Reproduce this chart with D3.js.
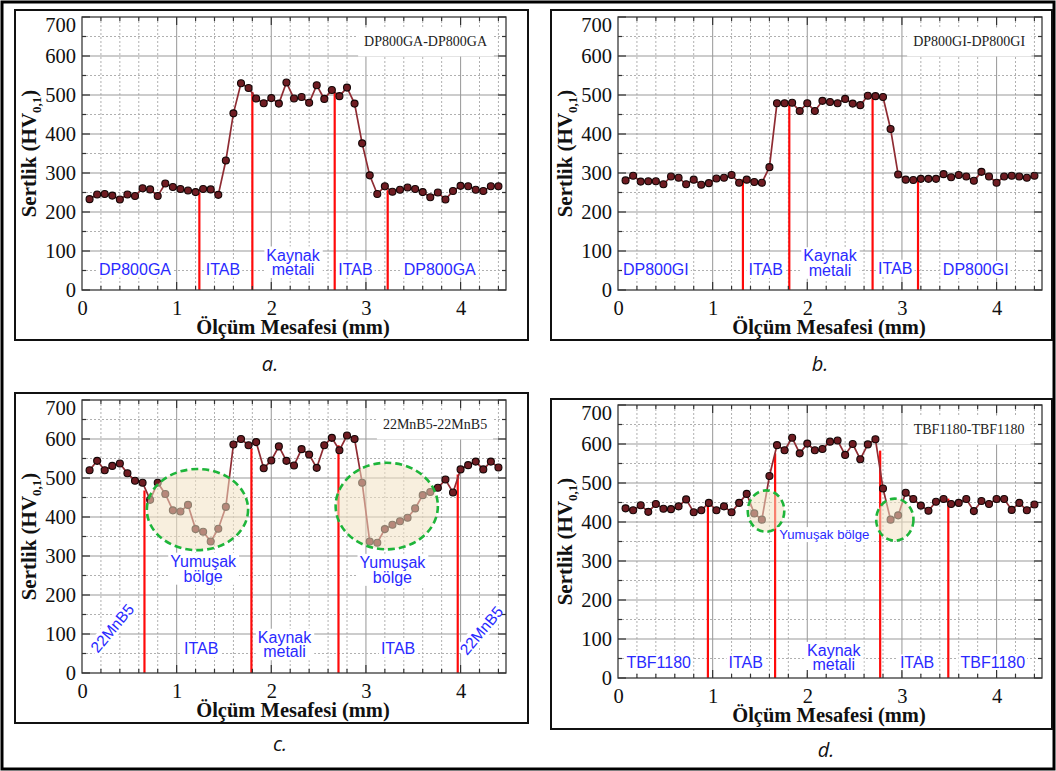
<!DOCTYPE html>
<html><head><meta charset="utf-8">
<script src="https://cdn.jsdelivr.net/npm/d3@7"></script>
<style>html,body{margin:0;padding:0;background:#fff;} svg{display:block;}</style>
</head><body>
<svg id="chart" width="1056" height="771"></svg>
<script>
// ---------- DATA ----------
const distance = [0.08,0.16,0.24,0.32,0.40,0.48,0.56,0.64,0.72,0.80,0.88,0.96,1.04,1.12,1.20,1.28,1.36,1.44,1.52,1.60,1.68,1.76,1.84,1.92,2.00,2.08,2.16,2.24,2.32,2.40,2.48,2.56,2.64,2.72,2.80,2.88,2.96,3.04,3.12,3.20,3.28,3.36,3.44,3.52,3.60,3.68,3.76,3.84,3.92,4.00,4.08,4.16,4.24,4.32,4.40];

const hvA = [233,245,246,242,232,245,241,261,258,241,273,264,259,255,251,259,258,244,332,453,530,518,491,479,492,478,532,491,495,480,525,490,513,497,519,478,376,294,246,266,252,257,263,259,251,238,250,232,254,267,266,257,254,266,266];
const hvB = [281,293,278,279,279,271,291,288,271,283,270,274,286,288,295,275,283,277,275,315,479,479,480,459,479,459,485,482,479,490,478,474,498,497,495,413,296,283,282,285,285,285,297,289,295,291,280,303,291,275,291,293,291,288,293];
const hvC = [520,544,520,531,537,512,493,488,444,488,459,417,414,431,369,362,337,370,426,586,600,584,592,525,545,581,544,532,574,560,526,584,603,571,609,600,488,337,334,369,380,389,398,422,456,464,475,496,463,522,533,542,522,542,527];
const hvD = [435,430,443,426,446,434,433,440,458,425,430,449,430,440,425,449,472,422,406,518,597,584,616,576,601,584,587,606,609,572,600,561,599,612,486,406,417,475,459,442,429,452,459,446,449,459,428,454,446,459,459,431,449,430,445];

// zone boundaries (mm) and the hardness where each red line stops
const boundA = [1.24, 1.80, 2.67, 3.23], boundTopA = [250, 508, 508, 256];
const boundB = [1.32, 1.81, 2.69, 3.17], boundTopB = [284, 476, 496, 288];
const boundC = [0.66, 1.79, 2.71, 3.97], boundTopC = [468, 576, 584, 509];
const boundD = [0.95, 1.66, 2.77, 3.49], boundTopD = [443, 576, 583, 460];

const titles = ["DP800GA-DP800GA", "DP800GI-DP800GI", "22MnB5-22MnB5", "TBF1180-TBF1180"];
const titleX = [3.63, 3.71, 3.73, 3.71];
const captions = ["a.", "b.", "c.", "d."];
const xTickLabels = [0, 1, 2, 3, 4];
const yTickLabels = [0, 100, 200, 300, 400, 500, 600, 700];

// zone labels: [text lines], x (mm), y (HV) of first line
const zonesA = [[["DP800GA"],0.56,54],[["ITAB"],1.49,54],[["Kaynak","metali"],2.23,90],[["ITAB"],2.89,54],[["DP800GA"],3.78,54]];
const zonesB = [[["DP800GI"],0.40,52],[["ITAB"],1.56,53],[["Kaynak","metali"],2.24,88],[["ITAB"],2.93,56],[["DP800GI"],3.78,53]];
const zonesC = [[["ITAB"],1.26,62],[["Kaynak","metali"],2.14,92],[["ITAB"],3.34,62]];
const zonesD = [[["TBF1180"],0.43,39],[["ITAB"],1.35,39],[["Kaynak","metali"],2.28,71],[["ITAB"],3.16,39],[["TBF1180"],3.96,40]];
const rotatedC = [["22MnB5",0.32,115],["22MnB5",4.22,109]];
// soft zones: centre x (mm), centre y (HV), half-width (mm), half-height (HV)
const softC = [[1.22,419,0.535,104],[3.22,428,0.54,111]];
const softD = [[1.564,428,0.193,53],[2.925,406,0.197,54]];
const softLabelC = [[["Yumuşak","bölge"],1.28,287],[["Yumuşak","bölge"],3.28,284]];
const softLabelD = [[["Yumuşak bölge"],2.18,368]];

// ---------- LAYOUT ----------
const svg = d3.select("#chart");
const PW = 424, PH = 273;
const panels = [
  {ox:82,  oy:17,  hv:hvA, bound:boundA, top:boundTopA, zones:zonesA, frame:[15,10,513,330], cap:[270,364]},
  {ox:618, oy:17,  hv:hvB, bound:boundB, top:boundTopB, zones:zonesB, frame:[551,10,501,330], cap:[820,364]},
  {ox:82,  oy:400, hv:hvC, bound:boundC, top:boundTopC, zones:zonesC, frame:[15,393,513,330], cap:[280,744], rot:rotatedC, soft:softC, softLab:softLabelC, softSize:16},
  {ox:618, oy:405, hv:hvD, bound:boundD, top:boundTopD, zones:zonesD, frame:[551,399,501,330], cap:[826,750], soft:softD, softLab:softLabelD, softSize:13.2}
];

svg.append("rect").attr("x",2).attr("y",2).attr("width",1052).attr("height",767)
  .attr("fill","none").attr("stroke","#000").attr("stroke-width",3);

const blue = "#2a2aff";
const SERIF = "'Liberation Serif','Times New Roman',serif";
const SANS = "'Liberation Sans',Arial,sans-serif";
function bgText(g, lines, cx, cyPx, size, lineH, opts={}) {
  const t = g.append("text").attr("text-anchor","middle")
    .style("font-family", opts.family || SANS)
    .style("font-size", size+"px").attr("fill", opts.color || blue);
  lines.forEach((l,i)=>{
    t.append("tspan").attr("x",cx).attr("y",cyPx + i*lineH).attr("dy","0.35em").text(l);
  });
  if (opts.rotate) t.attr("transform",`rotate(${opts.rotate},${cx},${cyPx})`);
  const bb = t.node().getBBox();
  const p = opts.pad || [2,0];
  const r = g.insert("rect", () => t.node())
    .attr("x",bb.x-p[0]).attr("y",bb.y-p[1]).attr("width",bb.width+2*p[0]).attr("height",bb.height+2*p[1])
    .attr("fill","#fff");
  if (opts.rotate) r.attr("transform",`rotate(${opts.rotate},${cx},${cyPx})`);
  return t;
}

panels.forEach((P, pi) => {
  svg.append("rect").attr("x",P.frame[0]).attr("y",P.frame[1]).attr("width",P.frame[2]).attr("height",P.frame[3])
    .attr("fill","none").attr("stroke","#111").attr("stroke-width",2);

  const g = svg.append("g").attr("transform",`translate(${P.ox},${P.oy})`);
  const x = d3.scaleLinear().domain([0,4.48]).range([0,PW]);
  const y = d3.scaleLinear().domain([0,700]).range([PH,0]);

  // grid
  const xMinor = x.ticks(22).filter(v => v > 0 && Math.abs(v - Math.round(v)) > 1e-6);
  const xMajor = xTickLabels.filter(v => v > 0);
  g.selectAll(".vgm").data(xMinor).join("line")
    .attr("x1",d=>x(d)).attr("x2",d=>x(d)).attr("y1",0).attr("y2",PH)
    .attr("stroke","#b0b0b0").attr("stroke-width",1).attr("stroke-dasharray","2,2");
  g.selectAll(".vgM").data(xMajor).join("line")
    .attr("x1",d=>x(d)).attr("x2",d=>x(d)).attr("y1",0).attr("y2",PH)
    .attr("stroke","#a0a0a0").attr("stroke-width",1.1);
  const yMinor = y.ticks(14).filter(v => v % 100 !== 0);
  g.selectAll(".hgm").data(yMinor).join("line")
    .attr("x1",0).attr("x2",PW).attr("y1",d=>y(d)).attr("y2",d=>y(d))
    .attr("stroke","#b0b0b0").attr("stroke-width",1).attr("stroke-dasharray","2,2");
  g.selectAll(".hgM").data(yTickLabels.filter(v=>v>0 && v<700)).join("line")
    .attr("x1",0).attr("x2",PW).attr("y1",d=>y(d)).attr("y2",d=>y(d))
    .attr("stroke","#999").attr("stroke-width",1.2);

  // zone labels
  P.zones.forEach(z => bgText(g, z[0], x(z[1]), y(z[2]), 16, 14.5));
  if (P.rot) P.rot.forEach(z => bgText(g, [z[0]], x(z[1]), y(z[2]), 15.5, 14, {rotate:-50}));

  // title
  bgText(g, [titles[pi]], x(titleX[pi]), y(637), 14, 14, {family:SERIF, color:"#222", pad:[6,7]});

  // red zone lines
  g.selectAll(".bnd").data(P.bound).join("line")
    .attr("x1",d=>x(d)).attr("x2",d=>x(d)).attr("y1",y(0)).attr("y2",(d,i)=>y(P.top[i]))
    .attr("stroke","#ff0a0a").attr("stroke-width",2.2);

  // series
  const pts = distance.map((d,i)=>[d,P.hv[i]]);
  g.append("path").datum(pts)
    .attr("d", d3.line().x(d=>x(d[0])).y(d=>y(d[1])))
    .attr("fill","none").attr("stroke","#8f2c33").attr("stroke-width",1.7);
  g.selectAll(".pt").data(pts).join("circle")
    .attr("cx",d=>x(d[0])).attr("cy",d=>y(d[1])).attr("r",3.5)
    .attr("fill","#6f1c22").attr("stroke","#140606").attr("stroke-width",1.1);

  // soft zones
  if (P.soft) {
    P.soft.forEach(s => {
      g.append("ellipse").attr("cx",x(s[0])).attr("cy",y(s[1]))
        .attr("rx",x(s[2])-x(0)).attr("ry",y(0)-y(s[3]))
        .attr("fill","#f3e2c2").attr("fill-opacity",0.55)
        .attr("stroke","#1eb53a").attr("stroke-width",2.6).attr("stroke-dasharray","7,4");
    });
    P.softLab.forEach(z => bgText(g, z[0], x(z[1]), y(z[2]), P.softSize, 15));
  }

  // plot frame
  g.append("rect").attr("x",0).attr("y",0).attr("width",PW).attr("height",PH)
    .attr("fill","none").attr("stroke","#3a3a3a").attr("stroke-width",1.3);

  // ticks (inward, all four sides)
  const tk = g.append("g").attr("stroke","#333").attr("stroke-width",1.2);
  xMinor.forEach(v => { tk.append("line").attr("x1",x(v)).attr("x2",x(v)).attr("y1",0).attr("y2",4);
                        tk.append("line").attr("x1",x(v)).attr("x2",x(v)).attr("y1",PH).attr("y2",PH-4); });
  xMajor.forEach(v => { tk.append("line").attr("x1",x(v)).attr("x2",x(v)).attr("y1",0).attr("y2",8);
                        tk.append("line").attr("x1",x(v)).attr("x2",x(v)).attr("y1",PH).attr("y2",PH-8); });
  yMinor.forEach(v => { tk.append("line").attr("x1",0).attr("x2",4).attr("y1",y(v)).attr("y2",y(v));
                        tk.append("line").attr("x1",PW).attr("x2",PW-4).attr("y1",y(v)).attr("y2",y(v)); });
  yTickLabels.forEach(v => { tk.append("line").attr("x1",0).attr("x2",8).attr("y1",y(v)).attr("y2",y(v));
                        tk.append("line").attr("x1",PW).attr("x2",PW-8).attr("y1",y(v)).attr("y2",y(v)); });

  // axes labels
  const xa = g.append("g").attr("transform",`translate(0,${PH})`)
    .call(d3.axisBottom(x).tickValues(xTickLabels).tickSize(0).tickPadding(10).tickFormat(d3.format("d")));
  xa.select(".domain").remove();
  xa.attr("font-family",null).attr("font-size",null);
  xa.selectAll("text").style("font-family",SERIF).style("font-size","20.5px").attr("fill","#111");
  const ya = g.append("g")
    .call(d3.axisLeft(y).tickValues(yTickLabels).tickSize(0).tickPadding(6).tickFormat(d3.format("d")));
  ya.select(".domain").remove();
  ya.attr("font-family",null).attr("font-size",null);
  ya.selectAll("text").style("font-family",SERIF).style("font-size","20.5px").attr("fill","#111")
    .attr("dy", d => d === 700 ? "0.72em" : "0.33em");

  // axis titles
  g.append("text").attr("x",PW/2-1).attr("y",PH+44).attr("text-anchor","middle")
    .style("font-family",SERIF).style("font-weight","bold").style("font-size","20.5px")
    .attr("fill","#111").text("Ölçüm Mesafesi (mm)");
  const yt = g.append("text").attr("transform",`translate(-46,${PH/2}) rotate(-90)`).attr("text-anchor","middle")
    .style("font-family",SERIF).style("font-weight","bold").style("font-size","21px").attr("fill","#111");
  yt.append("tspan").text("Sertlik (HV");
  yt.append("tspan").style("font-size","13px").attr("dy",5).text("0,1");
  yt.append("tspan").attr("dy",-5).text(")");

  // caption
  svg.append("text").attr("x",P.cap[0]).attr("y",P.cap[1]).attr("text-anchor","middle").attr("dy","0.35em")
    .style("font-family","'Open Sans','Liberation Sans',sans-serif").style("font-style","italic").style("font-size","20px")
    .attr("fill","#111").text(captions[pi]);
});
</script>
</body></html>
